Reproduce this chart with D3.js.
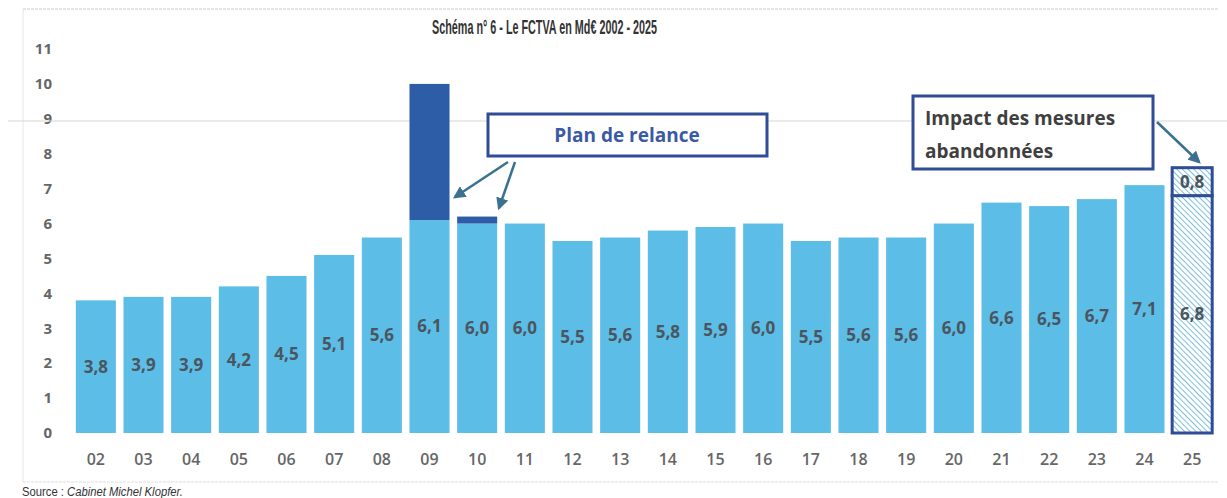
<!doctype html>
<html lang="fr">
<head>
    <meta charset="utf-8">
    <title>FCTVA 2002 - 2025</title>
    <script src="https://d3js.org/d3.v7.min.js"></script>
    <style>
        body { margin: 0; background: #fff; }
        svg text { font-family: "Open Sans", sans-serif; }
    </style>
</head>
<body>
<div id="chart"></div>
<script>
    // Data (Md€)
    var years    = ["02","03","04","05","06","07","08","09","10","11","12","13","14","15","16","17","18","19","20","21","22","23","24","25"];
    var fctva    = [3.8, 3.9, 3.9, 4.2, 4.5, 5.1, 5.6, 6.1, 6.0, 6.0, 5.5, 5.6, 5.8, 5.9, 6.0, 5.5, 5.6, 5.6, 6.0, 6.6, 6.5, 6.7, 7.1, 6.8];
    var relance  = [0, 0, 0, 0, 0, 0, 0, 3.9, 0.2, 0, 0, 0, 0, 0, 0, 0, 0, 0, 0, 0, 0, 0, 0, 0];
    var abandon  = [0, 0, 0, 0, 0, 0, 0, 0, 0, 0, 0, 0, 0, 0, 0, 0, 0, 0, 0, 0, 0, 0, 0, 0.8];
    var yTicks   = [0, 1, 2, 3, 4, 5, 6, 7, 8, 9, 10, 11];
    var hatched  = ["25"];

    var W = 1227, H = 498;
    var light = "#5cbde7", dark = "#2c5da6", frame = "#2f4d96";

    var svg = d3.select("#chart").append("svg").attr("width", W).attr("height", H);
    var defs = svg.append("defs");

    // Hatch pattern for the 2025 forecast bar
    var pat = defs.append("pattern")
        .attr("id", "hatch")
        .attr("patternUnits", "userSpaceOnUse")
        .attr("width", 4).attr("height", 4)
        .attr("patternTransform", "rotate(-45)");
    pat.append("rect").attr("width", 4).attr("height", 4).attr("fill", "#fff");
    pat.append("line").attr("x1", 0).attr("y1", 0).attr("x2", 0).attr("y2", 4)
        .attr("stroke", "#5aaed6").attr("stroke-width", 1.6);

    // Arrow marker
    defs.append("marker")
        .attr("id", "arrow")
        .attr("viewBox", "0 0 10 10")
        .attr("refX", 8).attr("refY", 5)
        .attr("markerWidth", 5).attr("markerHeight", 5)
        .attr("orient", "auto")
        .append("path").attr("d", "M0,0 L10,5 L0,10 z").attr("fill", "#3b7190");

    // Scan frame lines
    svg.append("line").attr("x1", 23).attr("x2", 1218).attr("y1", 9).attr("y2", 9)
        .attr("stroke", "#ccc").attr("stroke-width", 1).attr("stroke-dasharray", "3,1");
    svg.append("line").attr("x1", 23).attr("x2", 23).attr("y1", 9).attr("y2", 482)
        .attr("stroke", "#e6e6e6").attr("stroke-width", 1);
    svg.append("line").attr("x1", 23).attr("x2", 1218).attr("y1", 482).attr("y2", 482)
        .attr("stroke", "#ddd").attr("stroke-width", 1).attr("stroke-dasharray", "3,1");

    // Scales
    var x = d3.scaleBand().domain(years).range([72, 1216]).paddingInner(0.16).paddingOuter(0.08);
    var y = d3.scaleLinear().domain([0, 11]).range([433, 49]);

    // Y axis labels
    svg.append("g").selectAll("text")
        .data(yTicks).enter().append("text")
        .attr("x", 52)
        .attr("y", function(d) { return y(d); })
        .attr("dy", "0.35em")
        .attr("text-anchor", "end")
        .attr("font-size", 15).attr("font-weight", 700)
        .attr("fill", "#666")
        .text(function(d) { return d; });

    // Horizontal scan line near 9
    svg.append("line").attr("x1", 8).attr("x2", W).attr("y1", 121).attr("y2", 121)
        .attr("stroke", "#d9d6cf").attr("stroke-width", 1.2);

    // X axis labels
    svg.append("g").selectAll("text")
        .data(years).enter().append("text")
        .attr("x", function(d) { return x(d) + x.bandwidth() / 2; })
        .attr("y", 459)
        .attr("dy", "0.35em")
        .attr("text-anchor", "middle")
        .attr("font-size", 16).attr("font-weight", 600)
        .attr("fill", "#666")
        .text(function(d) { return d; });

    var rows = years.map(function(d, i) {
        return { year: d, v: fctva[i], r: relance[i], a: abandon[i], h: hatched.indexOf(d) >= 0 };
    });

    var bar = svg.append("g").selectAll("g")
        .data(rows).enter().append("g");

    // Base bars
    bar.append("rect")
        .attr("x", function(d) { return x(d.year); })
        .attr("width", x.bandwidth())
        .attr("y", function(d) { return y(d.v); })
        .attr("height", function(d) { return y(0) - y(d.v); })
        .attr("fill", function(d) { return d.h ? "url(#hatch)" : light; })
        .attr("stroke", function(d) { return d.h ? frame : "none"; })
        .attr("stroke-width", 3);

    // Plan de relance segments
    bar.filter(function(d) { return d.r > 0; }).append("rect")
        .attr("x", function(d) { return x(d.year); })
        .attr("width", x.bandwidth())
        .attr("y", function(d) { return y(d.v + d.r); })
        .attr("height", function(d) { return y(d.v) - y(d.v + d.r); })
        .attr("fill", dark);

    // Abandoned measures segment
    bar.filter(function(d) { return d.a > 0; }).append("rect")
        .attr("x", function(d) { return x(d.year); })
        .attr("width", x.bandwidth())
        .attr("y", function(d) { return y(d.v + d.a); })
        .attr("height", function(d) { return y(d.v) - y(d.v + d.a); })
        .attr("fill", "url(#hatch)")
        .attr("stroke", frame).attr("stroke-width", 3);

    var fmt = function(v) { return v.toFixed(1).replace(".", ","); };

    // Value labels
    bar.append("text")
        .attr("x", function(d) { return x(d.year) + x.bandwidth() / 2; })
        .attr("y", function(d) { return y(d.v / 2); })
        .attr("dy", "0.35em")
        .attr("text-anchor", "middle")
        .attr("font-size", 17).attr("font-weight", 700)
        .attr("fill", "#4b5560")
        .text(function(d) { return fmt(d.v); });

    bar.filter(function(d) { return d.a > 0; }).append("text")
        .attr("x", function(d) { return x(d.year) + x.bandwidth() / 2; })
        .attr("y", function(d) { return y(d.v + d.a / 2); })
        .attr("dy", "0.35em")
        .attr("text-anchor", "middle")
        .attr("font-size", 17).attr("font-weight", 700)
        .attr("fill", "#4b5560")
        .text(function(d) { return fmt(d.a); });

    // Title (condensed look)
    svg.append("text")
        .attr("x", 432).attr("y", 27)
        .attr("dy", "0.35em")
        .attr("textLength", 225)
        .attr("lengthAdjust", "spacingAndGlyphs")
        .style("font-family", "'Liberation Sans', sans-serif")
        .attr("font-size", 20).attr("font-weight", 700)
        .attr("fill", "#333")
        .text("Schéma n° 6 - Le FCTVA en Md€ 2002 - 2025");

    // "Plan de relance" annotation
    svg.append("rect")
        .attr("x", 488).attr("y", 114).attr("width", 279).attr("height", 42)
        .attr("fill", "#fff").attr("stroke", frame).attr("stroke-width", 3);
    svg.append("text")
        .attr("x", 627).attr("y", 135).attr("dy", "0.35em")
        .attr("text-anchor", "middle")
        .attr("font-size", 19).attr("font-weight", 700)
        .attr("fill", "#3a5aa6")
        .text("Plan de relance");
    svg.append("line").attr("x1", 508).attr("y1", 162).attr("x2", 455).attr("y2", 197)
        .attr("stroke", "#3b7190").attr("stroke-width", 2.5).attr("marker-end", "url(#arrow)");
    svg.append("line").attr("x1", 515).attr("y1", 162).attr("x2", 499).attr("y2", 208)
        .attr("stroke", "#3b7190").attr("stroke-width", 2.5).attr("marker-end", "url(#arrow)");

    // "Impact des mesures abandonnées" annotation
    svg.append("rect")
        .attr("x", 913).attr("y", 96).attr("width", 240).attr("height", 73)
        .attr("fill", "#fff").attr("stroke", frame).attr("stroke-width", 3);
    var imp = svg.append("text")
        .attr("x", 925).attr("font-size", 19).attr("font-weight", 700)
        .attr("fill", "#3f3f3f");
    imp.append("tspan").attr("x", 925).attr("y", 125).text("Impact des mesures");
    imp.append("tspan").attr("x", 925).attr("y", 158).text("abandonnées");
    svg.append("line").attr("x1", 1157).attr("y1", 122).attr("x2", 1199).attr("y2", 162)
        .attr("stroke", "#3b7190").attr("stroke-width", 2.5).attr("marker-end", "url(#arrow)");

    // Source
    var src = svg.append("text")
        .attr("x", 22).attr("y", 496)
        .attr("font-size", 12)
        .attr("textLength", 161)
        .attr("lengthAdjust", "spacingAndGlyphs")
        .style("font-family", "'Liberation Sans', sans-serif")
        .attr("fill", "#333");
    src.append("tspan").text("Source : ");
    src.append("tspan").attr("font-style", "italic").text("Cabinet Michel Klopfer.");
</script>
</body>
</html>
